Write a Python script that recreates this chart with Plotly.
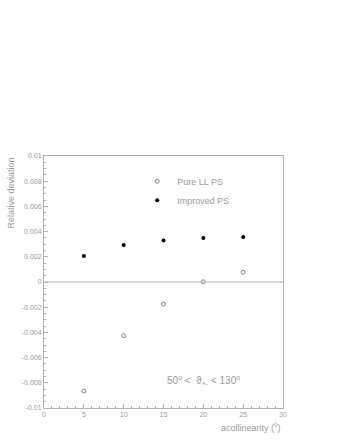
import plotly.graph_objects as go

x_vals = [5, 10, 15, 20, 25]
pure_ll = [-0.00865, -0.00426, -0.00175, 0.00002, 0.00077]
improved = [0.00206, 0.00294, 0.0033, 0.00349, 0.00357]

x_ticks = [0, 5, 10, 15, 20, 25, 30]
y_ticks = [-0.01, -0.008, -0.006, -0.004, -0.002, 0, 0.002, 0.004, 0.006, 0.008, 0.01]
y_tick_text = ["-0.01", "-0.008", "-0.006", "-0.004", "-0.002", "0", "0.002", "0.004", "0.006", "0.008", "0.01"]

grey = "#9a9a9a"
font = "Liberation Sans"

fig = go.Figure()
fig.add_trace(go.Scatter(x=x_vals, y=pure_ll, mode="markers", name="Pure LL PS",
                         marker=dict(symbol="circle-open", size=4, color="#808080", line=dict(width=1))))
fig.add_trace(go.Scatter(x=x_vals, y=improved, mode="markers", name="Improved PS",
                         marker=dict(symbol="circle", size=4, color="black")))

axis_common = dict(showgrid=False, zeroline=False, showline=True, linecolor="#b0b0b0", linewidth=1,
                   mirror=True, ticks="inside", tickcolor="#b0b0b0", ticklen=4,
                   tickfont=dict(family=font, size=7, color=grey))

fig.update_xaxes(range=[0, 30], tickvals=x_ticks, ticktext=[str(v) for v in x_ticks],
                 minor=dict(dtick=1, ticks="inside", ticklen=2, tickcolor="#b0b0b0"), **axis_common)
fig.update_yaxes(range=[-0.01, 0.01], tickvals=y_ticks, ticktext=y_tick_text,
                 minor=dict(dtick=0.0005, ticks="inside", ticklen=2, tickcolor="#b0b0b0"), **axis_common)

fig.add_hline(y=0, line=dict(color="#b0b0b0", width=1))

fig.add_annotation(text="Relative deviation", xref="paper", yref="paper", x=-0.142, y=1.0,
                   xanchor="center", yanchor="top", textangle=-90, showarrow=False,
                   font=dict(family=font, size=9, color=grey))
fig.add_annotation(text="acollinearity (<sup>o</sup>)", xref="paper", yref="paper", x=1.0, y=-0.045,
                   xanchor="right", yanchor="top", showarrow=False,
                   font=dict(family=font, size=9, color=grey))
fig.add_annotation(text="50<sup>o</sup> <  ϑ<sub>+-</sub> < 130<sup>o</sup>", xref="paper", yref="paper",
                   x=0.505, y=0.11, xanchor="left", yanchor="middle", showarrow=False,
                   font=dict(family=font, size=10, color=grey))

fig.update_layout(
    width=340, height=440,
    margin=dict(l=44, r=57, t=156, b=32),
    paper_bgcolor="white", plot_bgcolor="white",
    showlegend=True,
    legend=dict(x=0.39, y=0.957, xanchor="left", yanchor="top", bgcolor="rgba(0,0,0,0)",
                font=dict(family=font, size=9, color=grey), itemwidth=30, tracegroupgap=0),
)

fig.write_html("out.html", config={"displayModeBar": False},
               post_script="document.body.style.margin='0';")
